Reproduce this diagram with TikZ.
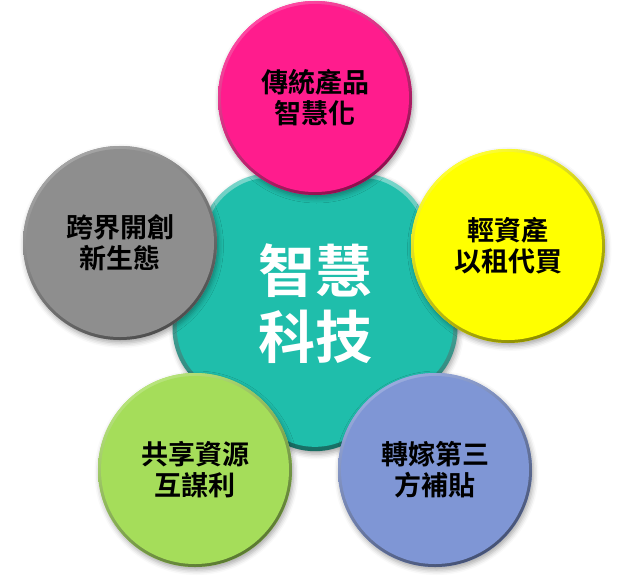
\documentclass[tikz,border=0pt]{standalone}
\usepackage{fontspec}
\newfontfamily\cjk{Noto Sans CJK TC}[BoldFont={Noto Sans CJK TC Bold}]
\usetikzlibrary{shadows.blur}
\definecolor{tealc}{HTML}{1FBEAB}
\definecolor{pinkc}{HTML}{FF1C8D}
\definecolor{yellowc}{HTML}{FFFF00}
\definecolor{grayc}{HTML}{8E8E8E}
\definecolor{greenc}{HTML}{A5DD5A}
\definecolor{bluec}{HTML}{7F96D5}
\tikzset{
  softshadow/.style={blur shadow={shadow xshift=1.5pt, shadow yshift=-3pt, shadow blur radius=5pt, shadow opacity=35}},
  bubble/.style={circle, minimum size=194pt, inner sep=0pt, align=center, text=black,
    font=\cjk\bfseries\fontsize{27}{31}\selectfont, fill=#1, softshadow,
    path picture={
      \shade[top color=#1!80!white, bottom color=#1!55!black, shading angle=30]
        (path picture bounding box.south west) rectangle (path picture bounding box.north east);
      \fill[#1] (path picture bounding box.center) circle[radius=94pt];
    }},
  corelabel/.style={font=\cjk\bfseries\fontsize{57}{66}\selectfont, text=white, align=center},
}
\begin{document}
\begin{tikzpicture}[x=1pt,y=-1pt]
\useasboundingbox (0,0) rectangle (628,576);
% central rounded pentagon
\path[softshadow, rounded corners=46pt, top color=tealc!60!white, bottom color=tealc!55!black]
  (315,173.9) -- (410.2,173.9) -- (469.1,355.1) -- (315,467) -- (160.9,355.1) -- (219.8,173.9) -- cycle;
\fill[tealc, rounded corners=44pt]
  (315,178) -- (407.3,178) -- (464.3,353.5) -- (315,462) -- (165.7,353.5) -- (222.7,178) -- cycle;
\node[corelabel] (core) at (315,304) {智慧\\科技};
% surrounding circles
\node[bubble=pinkc]   (n1) at (315,98)  {傳統產品\\智慧化};
\node[bubble=yellowc] (n2) at (508,246) {輕資產\\以租代買};
\node[bubble=bluec]   (n3) at (435,470) {轉嫁第三\\方補貼};
\node[bubble=greenc]  (n4) at (195,470) {共享資源\\互謀利};
\node[bubble=grayc]   (n5) at (120,243) {跨界開創\\新生態};
\end{tikzpicture}
\end{document}
